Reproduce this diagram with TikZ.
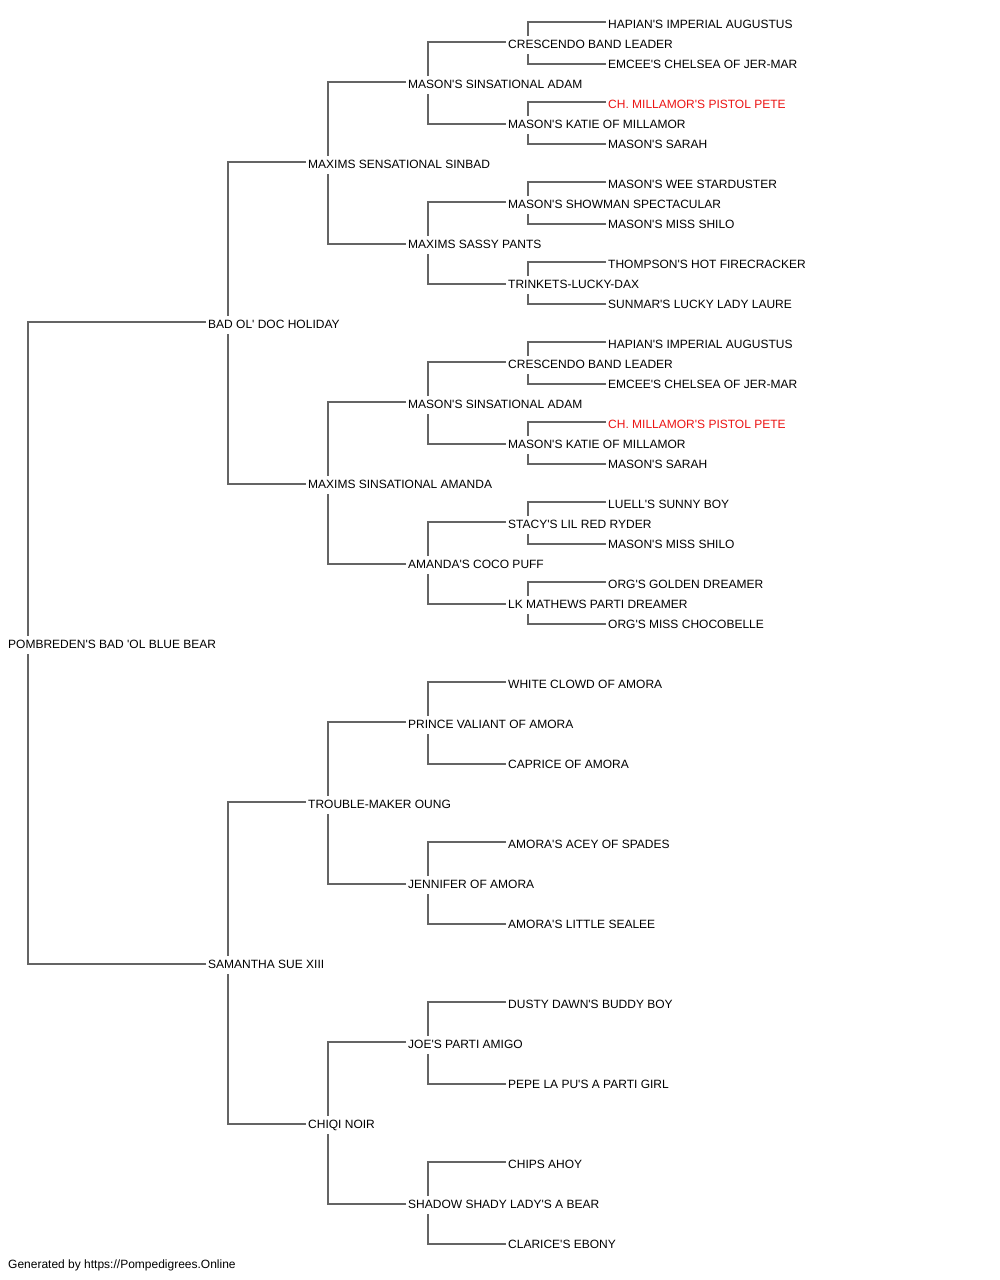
\documentclass[tikz,border=0pt]{standalone}
\usepackage{fontspec}
\setmainfont{Liberation Sans}[Ligatures=TeXOff]
\definecolor{linkgray}{RGB}{100,100,100}
\definecolor{champred}{RGB}{235,20,20}

\begin{document}
\begin{tikzpicture}[x=1pt, y=-1pt,
		dog/.style={anchor=west, inner xsep=2pt, inner ysep=3.7pt, text height=8.6pt, text depth=2pt, font=\fontsize{12}{14}\selectfont},
		champ/.style={dog, text=champred},
		link/.style={draw=linkgray, line width=1.25pt}]
				\useasboundingbox (0,0) rectangle (1000,1280);
				% root and first generations
				\node[dog] (r)at(6, 645) {POMBREDEN'S BAD 'OL BLUE BEAR};
				\node[dog] (s)at(206, 325) {BAD OL' DOC HOLIDAY};
				\node[dog] (d)at(206, 965) {SAMANTHA SUE XIII};
				\node[dog] (ss)at(306, 165) {MAXIMS SENSATIONAL SINBAD};
				\node[dog] (sd)at(306, 485) {MAXIMS SINSATIONAL AMANDA};
				\node[dog] (ds)at(306, 805) {TROUBLE-MAKER OUNG};
				\node[dog] (dd)at(306, 1125) {CHIQI NOIR};
				% third generation
				\node[dog] (sss)at(406, 85) {MASON'S SINSATIONAL ADAM};
				\node[dog] (ssd)at(406, 245) {MAXIMS SASSY PANTS};
				\node[dog] (sds)at(406, 405) {MASON'S SINSATIONAL ADAM};
				\node[dog] (sdd)at(406, 565) {AMANDA'S COCO PUFF};
				\node[dog] (dss)at(406, 725) {PRINCE VALIANT OF AMORA};
				\node[dog] (dsd)at(406, 885) {JENNIFER OF AMORA};
				\node[dog] (dds)at(406, 1045) {JOE'S PARTI AMIGO};
				\node[dog] (ddd)at(406, 1205) {SHADOW SHADY LADY'S A BEAR};
				% fourth generation
				\node[dog] (ssss)at(506, 45) {CRESCENDO BAND LEADER};
				\node[dog] (sssd)at(506, 125) {MASON'S KATIE OF MILLAMOR};
				\node[dog] (ssds)at(506, 205) {MASON'S SHOWMAN SPECTACULAR};
				\node[dog] (ssdd)at(506, 285) {TRINKETS-LUCKY-DAX};
				\node[dog] (sdss)at(506, 365) {CRESCENDO BAND LEADER};
				\node[dog] (sdsd)at(506, 445) {MASON'S KATIE OF MILLAMOR};
				\node[dog] (sdds)at(506, 525) {STACY'S LIL RED RYDER};
				\node[dog] (sddd)at(506, 605) {LK MATHEWS PARTI DREAMER};
				\node[dog] (dsss)at(506, 685) {WHITE CLOWD OF AMORA};
				\node[dog] (dssd)at(506, 765) {CAPRICE OF AMORA};
				\node[dog] (dsds)at(506, 845) {AMORA'S ACEY OF SPADES};
				\node[dog] (dsdd)at(506, 925) {AMORA'S LITTLE SEALEE};
				\node[dog] (ddss)at(506, 1005) {DUSTY DAWN'S BUDDY BOY};
				\node[dog] (ddsd)at(506, 1085) {PEPE LA PU'S A PARTI GIRL};
				\node[dog] (ddds)at(506, 1165) {CHIPS AHOY};
				\node[dog] (dddd)at(506, 1245) {CLARICE'S EBONY};
				% fifth generation
				\node[dog] (sssss)at(606, 25) {HAPIAN'S IMPERIAL AUGUSTUS};
				\node[dog] (ssssd)at(606, 65) {EMCEE'S CHELSEA OF JER-MAR};
				\node[champ] (sssds)at(606, 105) {CH. MILLAMOR'S PISTOL PETE};
				\node[dog] (sssdd)at(606, 145) {MASON'S SARAH};
				\node[dog] (ssdss)at(606, 185) {MASON'S WEE STARDUSTER};
				\node[dog] (ssdsd)at(606, 225) {MASON'S MISS SHILO};
				\node[dog] (ssdds)at(606, 265) {THOMPSON'S HOT FIRECRACKER};
				\node[dog] (ssddd)at(606, 305) {SUNMAR'S LUCKY LADY LAURE};
				\node[dog] (sdsss)at(606, 345) {HAPIAN'S IMPERIAL AUGUSTUS};
				\node[dog] (sdssd)at(606, 385) {EMCEE'S CHELSEA OF JER-MAR};
				\node[champ] (sdsds)at(606, 425) {CH. MILLAMOR'S PISTOL PETE};
				\node[dog] (sdsdd)at(606, 465) {MASON'S SARAH};
				\node[dog] (sddss)at(606, 505) {LUELL'S SUNNY BOY};
				\node[dog] (sddsd)at(606, 545) {MASON'S MISS SHILO};
				\node[dog] (sddds)at(606, 585) {ORG'S GOLDEN DREAMER};
				\node[dog] (sdddd)at(606, 625) {ORG'S MISS CHOCOBELLE};
				% footer
				\node[dog] (credit)at(6, 1265) {Generated by https://Pompedigrees.Online};
				% sire and dam links
				\draw[link] ([yshift=3pt]s.west) -| ([xshift=22pt]r.north west) ([yshift=1pt]d.west) -| ([xshift=22pt]r.south west);
				\draw[link] ([yshift=3pt]ss.west) -| ([xshift=22pt]s.north west) ([yshift=1pt]sd.west) -| ([xshift=22pt]s.south west);
				\draw[link] ([yshift=3pt]ds.west) -| ([xshift=22pt]d.north west) ([yshift=1pt]dd.west) -| ([xshift=22pt]d.south west);
				\draw[link] ([yshift=3pt]sss.west) -| ([xshift=22pt]ss.north west) ([yshift=1pt]ssd.west) -| ([xshift=22pt]ss.south west);
				\draw[link] ([yshift=3pt]sds.west) -| ([xshift=22pt]sd.north west) ([yshift=1pt]sdd.west) -| ([xshift=22pt]sd.south west);
				\draw[link] ([yshift=3pt]dss.west) -| ([xshift=22pt]ds.north west) ([yshift=1pt]dsd.west) -| ([xshift=22pt]ds.south west);
				\draw[link] ([yshift=3pt]dds.west) -| ([xshift=22pt]dd.north west) ([yshift=1pt]ddd.west) -| ([xshift=22pt]dd.south west);
				\draw[link] ([yshift=3pt]ssss.west) -| ([xshift=22pt]sss.north west) ([yshift=1pt]sssd.west) -| ([xshift=22pt]sss.south west);
				\draw[link] ([yshift=3pt]ssds.west) -| ([xshift=22pt]ssd.north west) ([yshift=1pt]ssdd.west) -| ([xshift=22pt]ssd.south west);
				\draw[link] ([yshift=3pt]sdss.west) -| ([xshift=22pt]sds.north west) ([yshift=1pt]sdsd.west) -| ([xshift=22pt]sds.south west);
				\draw[link] ([yshift=3pt]sdds.west) -| ([xshift=22pt]sdd.north west) ([yshift=1pt]sddd.west) -| ([xshift=22pt]sdd.south west);
				\draw[link] ([yshift=3pt]dsss.west) -| ([xshift=22pt]dss.north west) ([yshift=1pt]dssd.west) -| ([xshift=22pt]dss.south west);
				\draw[link] ([yshift=3pt]dsds.west) -| ([xshift=22pt]dsd.north west) ([yshift=1pt]dsdd.west) -| ([xshift=22pt]dsd.south west);
				\draw[link] ([yshift=3pt]ddss.west) -| ([xshift=22pt]dds.north west) ([yshift=1pt]ddsd.west) -| ([xshift=22pt]dds.south west);
				\draw[link] ([yshift=3pt]ddds.west) -| ([xshift=22pt]ddd.north west) ([yshift=1pt]dddd.west) -| ([xshift=22pt]ddd.south west);
				\draw[link] ([yshift=3pt]sssss.west) -| ([xshift=22pt]ssss.north west) ([yshift=1pt]ssssd.west) -| ([xshift=22pt]ssss.south west);
				\draw[link] ([yshift=3pt]sssds.west) -| ([xshift=22pt]sssd.north west) ([yshift=1pt]sssdd.west) -| ([xshift=22pt]sssd.south west);
				\draw[link] ([yshift=3pt]ssdss.west) -| ([xshift=22pt]ssds.north west) ([yshift=1pt]ssdsd.west) -| ([xshift=22pt]ssds.south west);
				\draw[link] ([yshift=3pt]ssdds.west) -| ([xshift=22pt]ssdd.north west) ([yshift=1pt]ssddd.west) -| ([xshift=22pt]ssdd.south west);
				\draw[link] ([yshift=3pt]sdsss.west) -| ([xshift=22pt]sdss.north west) ([yshift=1pt]sdssd.west) -| ([xshift=22pt]sdss.south west);
				\draw[link] ([yshift=3pt]sdsds.west) -| ([xshift=22pt]sdsd.north west) ([yshift=1pt]sdsdd.west) -| ([xshift=22pt]sdsd.south west);
				\draw[link] ([yshift=3pt]sddss.west) -| ([xshift=22pt]sdds.north west) ([yshift=1pt]sddsd.west) -| ([xshift=22pt]sdds.south west);
				\draw[link] ([yshift=3pt]sddds.west) -| ([xshift=22pt]sddd.north west) ([yshift=1pt]sdddd.west) -| ([xshift=22pt]sddd.south west);
			\end{tikzpicture}
\end{document}
